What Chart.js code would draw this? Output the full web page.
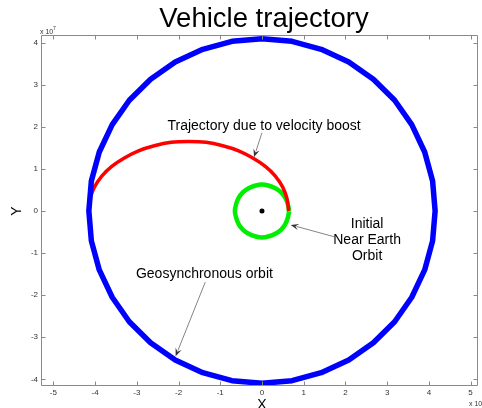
<!DOCTYPE html>
<html>
<head>
<meta charset="utf-8">
<script src="https://cdn.jsdelivr.net/npm/chart.js@4"></script>
<style>html,body{margin:0;padding:0;background:#fff;}canvas{display:block;}</style>
</head>
<body>
<canvas id="c" width="482" height="408"></canvas>
<script>
// ---- data (units of 10^7) ----
const xTicks = [-5, -4, -3, -2, -1, 0, 1, 2, 3, 4, 5];
const yTicks = [-4, -3, -2, -1, 0, 1, 2, 3, 4];

const geoX = [4.15, 4.09, 3.90, 3.59, 3.18, 2.67, 2.08, 1.42, 0.72, 0,
  -0.72, -1.42, -2.08, -2.67, -3.18, -3.59, -3.90, -4.09, -4.15,
  -4.09, -3.90, -3.59, -3.18, -2.67, -2.08, -1.42, -0.72, 0,
  0.72, 1.42, 2.08, 2.67, 3.18, 3.59, 3.90, 4.09, 4.15];
const geoY = [0, 0.71, 1.40, 2.05, 2.63, 3.13, 3.54, 3.84, 4.03, 4.09,
  4.03, 3.84, 3.54, 3.13, 2.63, 2.05, 1.40, 0.71, 0,
  -0.71, -1.40, -2.05, -2.63, -3.13, -3.54, -3.84, -4.03, -4.09,
  -4.03, -3.84, -3.54, -3.13, -2.63, -2.05, -1.40, -0.71, 0];

const leoX = [0.65, 0.62, 0.56, 0.46, 0.32, 0.17, 0, -0.17, -0.32, -0.46, -0.56, -0.62,
  -0.65, -0.62, -0.56, -0.46, -0.32, -0.17, 0, 0.17, 0.32, 0.46, 0.56, 0.62, 0.65];
const leoY = [0, 0.16, 0.31, 0.44, 0.54, 0.60, 0.63, 0.60, 0.54, 0.44, 0.31, 0.16,
  0, -0.16, -0.31, -0.44, -0.54, -0.60, -0.63, -0.60, -0.54, -0.44, -0.31, -0.16, 0];

const transferX = [0.64, 0.60, 0.50, 0.32, 0.08, -0.22, -0.56, -0.94, -1.34, -1.76,
  -2.18, -2.58, -2.96, -3.30, -3.60, -3.84, -4.02, -4.12, -4.16];
const transferY = [0, 0.29, 0.56, 0.83, 1.06, 1.26, 1.43, 1.55, 1.63, 1.65,
  1.63, 1.55, 1.43, 1.26, 1.06, 0.83, 0.56, 0.29, 0];

const earthX = [0];
const earthY = [0];

// annotations: text lines, text position, arrow tail -> head (data units)
const notes = [
  { lines: ["Trajectory due to velocity boost"], tx: 0.05, ty: 2.02, ax: [0.0, 1.86], ah: [-0.19, 1.28] },
  { lines: ["Initial", "Near Earth", "Orbit"], tx: 2.52, ty: -0.31, ax: [1.76, -0.62], ah: [0.69, -0.33] },
  { lines: ["Geosynchronous orbit"], tx: -1.38, ty: -1.50, ax: [-1.36, -1.69], ah: [-2.07, -3.45] }
];

const pts = (xs, ys) => xs.map((v, i) => ({ x: v, y: ys[i] }));
const FONT = '"Liberation Sans", Arial, Helvetica, sans-serif';

const deco = {
  id: 'deco',
  afterDraw(chart) {
    const { ctx, chartArea: ca, scales: { x, y } } = chart;
    ctx.save();
    ctx.strokeStyle = '#8a8a8a';
    ctx.lineWidth = 1;
    const L = Math.round(ca.left) + 0.5, T = Math.round(ca.top) + 0.5;
    const B = Math.round(ca.bottom) - 0.5, R = Math.round(ca.right) - 0.5;
    ctx.beginPath();
    ctx.moveTo(L, T); ctx.lineTo(R, T); ctx.lineTo(R, B); ctx.lineTo(L, B); ctx.closePath();
    ctx.stroke();
    ctx.beginPath();
    xTicks.forEach(v => {
      const p = Math.round(x.getPixelForValue(v)) + 0.5;
      ctx.moveTo(p, B); ctx.lineTo(p, B - 4);
      ctx.moveTo(p, T); ctx.lineTo(p, T + 4);
    });
    yTicks.forEach(v => {
      const p = Math.round(y.getPixelForValue(v)) + 0.5;
      ctx.moveTo(L, p); ctx.lineTo(L + 4, p);
      ctx.moveTo(R, p); ctx.lineTo(R - 4, p);
    });
    ctx.stroke();
    ctx.fillStyle = '#333';
    ctx.font = '8px ' + FONT;
    ctx.textAlign = 'center'; ctx.textBaseline = 'middle';
    xTicks.forEach(v => ctx.fillText(String(v), x.getPixelForValue(v), 393));
    ctx.textAlign = 'right';
    yTicks.forEach(v => ctx.fillText(String(v), 38, y.getPixelForValue(v)));
    ctx.textAlign = 'left'; ctx.textBaseline = 'alphabetic';
    ctx.font = '7px ' + FONT;
    ctx.fillText('x 10', 40, 34);
    ctx.fillText('x 10', 469, 406);
    ctx.font = '5px ' + FONT;
    ctx.fillText('7', 53, 30);
    ctx.fillStyle = '#000';
    ctx.textAlign = 'center';
    ctx.font = '27.5px ' + FONT;
    ctx.fillText('Vehicle trajectory', 264, 27);
    ctx.font = '14px ' + FONT;
    ctx.fillText('X', x.getPixelForValue(0), 409);
    ctx.save();
    ctx.translate(21, 211);
    ctx.rotate(-Math.PI / 2);
    ctx.fillText('Y', 0, 0);
    ctx.restore();
    notes.forEach(n => {
      ctx.fillStyle = '#000';
      ctx.font = '14px ' + FONT;
      ctx.textAlign = 'center'; ctx.textBaseline = 'middle';
      const tx = x.getPixelForValue(n.tx), ty = y.getPixelForValue(n.ty);
      n.lines.forEach((s, i) => ctx.fillText(s, tx, ty + i * 16));
      const x0 = x.getPixelForValue(n.ax[0]), y0 = y.getPixelForValue(n.ax[1]);
      const x1 = x.getPixelForValue(n.ah[0]), y1 = y.getPixelForValue(n.ah[1]);
      const ang = Math.atan2(y1 - y0, x1 - x0);
      const len = 8, wid = 3.2;
      const bx = x1 - len * Math.cos(ang), by = y1 - len * Math.sin(ang);
      ctx.strokeStyle = '#666'; ctx.lineWidth = 0.8;
      ctx.beginPath(); ctx.moveTo(x0, y0); ctx.lineTo(bx + 2 * Math.cos(ang), by + 2 * Math.sin(ang)); ctx.stroke();
      ctx.fillStyle = '#333';
      ctx.beginPath();
      ctx.moveTo(x1, y1);
      ctx.lineTo(bx - wid * Math.sin(ang), by + wid * Math.cos(ang));
      ctx.lineTo(x1 - 0.6 * len * Math.cos(ang), y1 - 0.6 * len * Math.sin(ang));
      ctx.lineTo(bx + wid * Math.sin(ang), by - wid * Math.cos(ang));
      ctx.closePath();
      ctx.fill();
    });
    ctx.restore();
  }
};

new Chart(document.getElementById('c'), {
  type: 'scatter',
  data: {
    datasets: [
      { label: 'Geosynchronous orbit', data: pts(geoX, geoY), showLine: true, borderColor: '#0000ff', borderWidth: 5.5, pointRadius: 0, tension: 0, order: 0, borderJoinStyle: 'round', borderCapStyle: 'round' },
      { label: 'Transfer', data: pts(transferX, transferY), showLine: true, borderColor: '#ff0000', borderWidth: 3.5, pointRadius: 0, tension: 0.35, order: 1 },
      { label: 'Near Earth Orbit', data: pts(leoX, leoY), showLine: true, borderColor: '#00ee00', borderWidth: 4.5, pointRadius: 0, tension: 0.35, order: 2 },
      { label: 'Earth', data: pts(earthX, earthY), showLine: false, backgroundColor: '#000', borderColor: '#000', pointRadius: 2.5, borderWidth: 0, order: 3 }
    ]
  },
  options: {
    responsive: false,
    animation: false,
    events: [],
    layout: { padding: { top: 35, left: 0, right: 0, bottom: 0 } },
    plugins: { legend: { display: false }, tooltip: { enabled: false }, title: { display: false } },
    scales: {
      x: {
        type: 'linear', min: -5.297, max: 5.178,
        grid: { display: false }, border: { display: false },
        ticks: { display: false },
        afterFit: s => { s.height = 22; }
      },
      y: {
        type: 'linear', min: -4.157, max: 4.18,
        grid: { display: false }, border: { display: false },
        ticks: { display: false },
        afterFit: s => { s.width = 41; }
      }
    }
  },
  plugins: [deco]
});
</script>
</body>
</html>
